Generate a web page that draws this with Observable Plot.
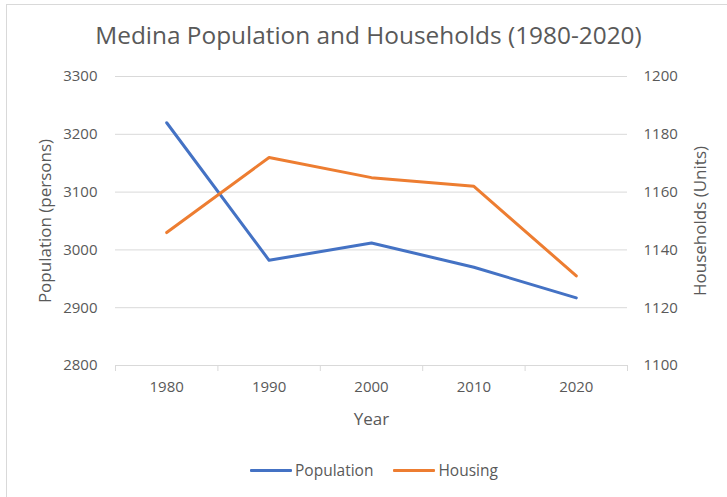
<!DOCTYPE html>
<html>
<head>
<meta charset="utf-8">
<script src="https://cdn.jsdelivr.net/npm/d3@7"></script>
<script src="https://cdn.jsdelivr.net/npm/@observablehq/plot@0.6"></script>
<style>
  html, body { margin: 0; padding: 0; background: #fff; }
  #wrap { position: relative; width: 727px; height: 497px; overflow: hidden; font-family: "Open Sans", sans-serif; color: #595959; }
  #frame { position: absolute; left: 6px; top: 4px; width: 740px; height: 520px; border-left: 1.5px solid #d9d9d9; border-top: 1.5px solid #d9d9d9; box-sizing: border-box; }
  #title { position: absolute; left: 5px; width: 727px; top: 18px; text-align: center; font-size: 24.4px; color: #595959; white-space: nowrap; }
  #chart { position: absolute; left: 0; top: 0; }
  #legend { position: absolute; top: 459px; left: 250px; display: flex; align-items: center; font-size: 15.5px; color: #595959; white-space: nowrap; }
  .sw { display: inline-block; width: 42px; height: 3px; margin-right: 3px; border-radius: 1px; }
</style>
</head>
<body>
<div id="wrap">
  <div id="frame"></div>
  <div id="chart"></div>
  <div id="title">Medina Population and Households (1980-2020)</div>
  <div id="legend"></div>
</div>
<script>
const years = [1980, 1990, 2000, 2010, 2020];
const population = [3220, 2982, 3012, 2970, 2917];
const housing = [1146, 1172, 1165, 1162, 1131];
const leftTicks = [2800, 2900, 3000, 3100, 3200, 3300];
const rightTicks = [1100, 1120, 1140, 1160, 1180, 1200];
const categoryEdges = [1975, 1985, 1995, 2005, 2015, 2025];
const seriesNames = ["Population", "Housing"];
const seriesColors = ["#4472C4", "#ED7D31"];

// map right axis (households) onto left axis (population) scale
const yL = [2800, 3300], yR = [1100, 1200];
const toLeft = v => yL[0] + (v - yR[0]) * (yL[1] - yL[0]) / (yR[1] - yR[0]);

const popData = years.map((y, i) => ({year: y, value: population[i]}));
const houData = years.map((y, i) => ({year: y, value: toLeft(housing[i])}));
const rightData = rightTicks.map(t => ({pos: toLeft(t), label: String(t)}));

const font = "Open Sans, sans-serif";
const plot = Plot.plot({
  width: 727,
  height: 497,
  marginTop: 76,
  marginBottom: 132,
  marginLeft: 115,
  marginRight: 100,
  style: {fontFamily: font, color: "#595959", background: "transparent", overflow: "visible"},
  x: {type: "linear", domain: [1975, 2025], axis: null},
  y: {type: "linear", domain: yL, axis: null},
  marks: [
    Plot.ruleY(leftTicks, {stroke: "#d9d9d9", strokeWidth: 1}),
    Plot.ruleX(categoryEdges, {y1: 2800, y2: 2800, insetBottom: -6, stroke: "#d9d9d9", strokeWidth: 1}),
    // left tick labels
    Plot.text(leftTicks, {x: 1975, y: d => d, text: d => String(d), textAnchor: "end", dx: -18, fontSize: 15, fill: "#595959"}),
    // right tick labels
    Plot.text(rightData, {x: 2025, y: "pos", text: "label", textAnchor: "start", dx: 16, fontSize: 15, fill: "#595959"}),
    // x tick labels
    Plot.text(years, {x: d => d, y: 2800, text: d => String(d), dy: 22, fontSize: 15, fill: "#595959"}),
    // axis titles
    Plot.text(["Year"], {x: 2000, y: 2800, text: d => d, dy: 54, fontSize: 17, fill: "#595959"}),
    Plot.text(["Population (persons)"], {x: 1975, y: 3050, text: d => d, rotate: -90, dx: -70, fontSize: 17, fill: "#595959"}),
    Plot.text(["Households (Units)"], {x: 2025, y: 3050, text: d => d, rotate: -90, dx: 73, fontSize: 17, fill: "#595959"}),
    Plot.line(popData, {x: "year", y: "value", stroke: seriesColors[0], strokeWidth: 3, strokeLinejoin: "round", strokeLinecap: "round"}),
    Plot.line(houData, {x: "year", y: "value", stroke: seriesColors[1], strokeWidth: 3, strokeLinejoin: "round", strokeLinecap: "round"})
  ]
});
document.getElementById("chart").appendChild(plot);

const legend = document.getElementById("legend");
seriesNames.forEach((name, i) => {
  const item = document.createElement("span");
  item.style.display = "inline-flex";
  item.style.alignItems = "center";
  item.style.marginRight = i === 0 ? "20px" : "0";
  const sw = document.createElement("span");
  sw.className = "sw";
  sw.style.background = seriesColors[i];
  item.appendChild(sw);
  item.appendChild(document.createTextNode(name));
  legend.appendChild(item);
});
</script>
</body>
</html>
